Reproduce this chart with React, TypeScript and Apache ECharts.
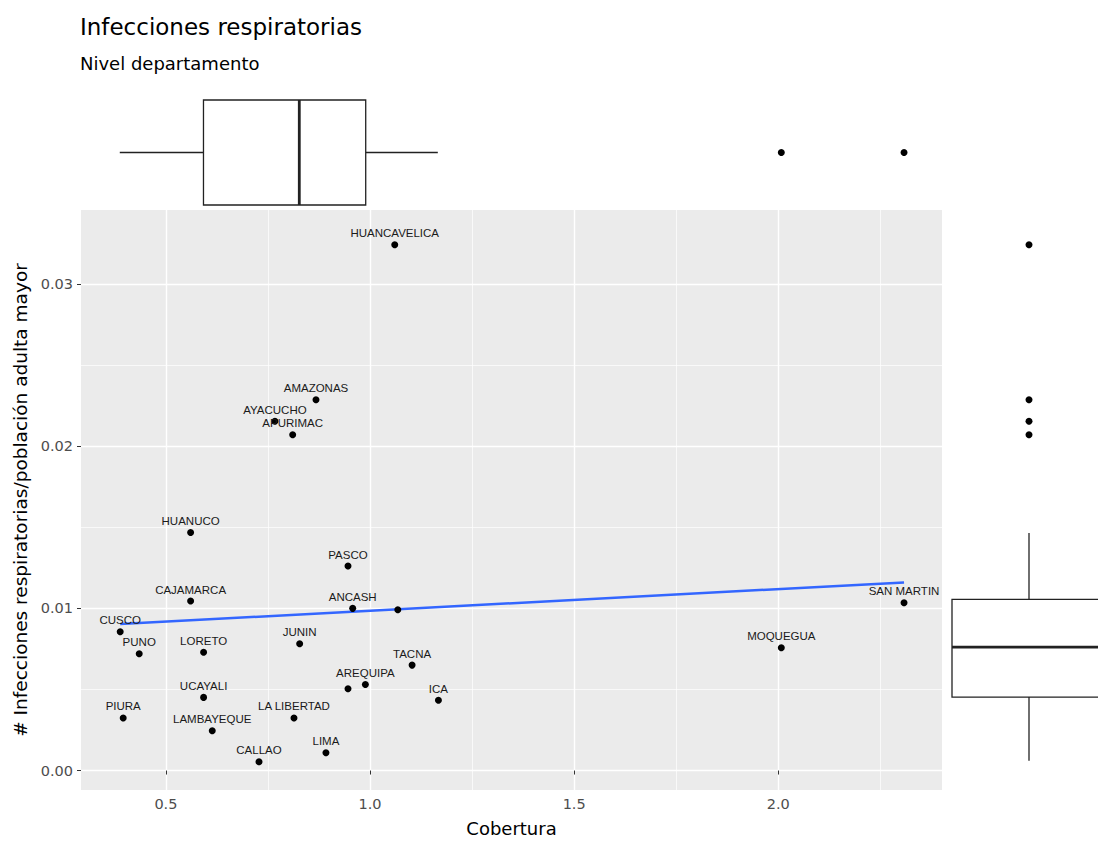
import React, { useEffect, useRef } from 'react';
import * as echarts from 'echarts';

// ---------- data ----------
const departamentos = [
  'HUANCAVELICA', 'AMAZONAS', 'AYACUCHO', 'APURIMAC', 'HUANUCO', 'PASCO', 'CAJAMARCA',
  'ANCASH', 'MADRE DE DIOS', 'CUSCO', 'PUNO', 'LORETO', 'JUNIN', 'TACNA', 'AREQUIPA',
  'TUMBES', 'UCAYALI', 'ICA', 'PIURA', 'LA LIBERTAD', 'LAMBAYEQUE', 'LIMA', 'CALLAO',
  'SAN MARTIN', 'MOQUEGUA',
];
const cobertura = [
  1.0605, 0.8676, 0.767, 0.8105, 0.5605, 0.946, 0.5605,
  0.9575, 1.068, 0.388, 0.4346, 0.5923, 0.8276, 1.103, 0.9886,
  0.946, 0.5923, 1.1675, 0.3954, 0.8137, 0.6135, 0.892, 0.728,
  2.308, 2.0074,
];
const tasaInfecciones = [
  0.03242, 0.02286, 0.02153, 0.0207, 0.01468, 0.01261, 0.01045,
  0.0100, 0.00991, 0.00856, 0.0072, 0.00729, 0.00782, 0.0065, 0.00531,
  0.00504, 0.00451, 0.00433, 0.00324, 0.00324, 0.00245, 0.0011, 0.00054,
  0.01035, 0.00757,
];
// labels dropped in the reference (overlap check)
const etiquetaOculta = ['MADRE DE DIOS', 'TUMBES'];

// linear fit endpoints
const ajusteX = [0.388, 2.308];
const ajusteY = [0.00903, 0.0116];

// marginal boxplots: [lower whisker, Q1, median, Q3, upper whisker]
const boxCobertura = [0.387, 0.592, 0.8267, 0.9894, 1.166];
const outliersCobertura = [2.0074, 2.308];
const boxTasa = [0.0006, 0.00453, 0.00761, 0.01055, 0.01464];
const outliersTasa = [0.03242, 0.02286, 0.02153, 0.0207];

// tick labels
const xTicks = [0.5, 1.0, 1.5, 2.0];
const yTicks = [0.0, 0.01, 0.02, 0.03];

const X_MIN = 0.292;
const X_MAX = 2.401;
const Y_MIN = -0.0012;
const Y_MAX = 0.03456;

const FONT = "'DejaVu Sans', sans-serif";
const LABEL_FONT = "'Liberation Sans', Arial, sans-serif";

function boxRenderer(horizontal: boolean) {
  return (_params: any, api: any) => {
    const lo = api.value(0), q1 = api.value(1), med = api.value(2), q3 = api.value(3), hi = api.value(4);
    const P = (v: number, t: number) => (horizontal ? api.coord([v, t]) : api.coord([t, v]));
    const stroke = '#222222';
    const thin = { stroke, lineWidth: 1.3 };
    const a = P(q1, 0), b = P(q3, 1);
    const w1a = P(lo, 0.5), w1b = P(q1, 0.5), w2a = P(q3, 0.5), w2b = P(hi, 0.5);
    const m1 = P(med, 0), m2 = P(med, 1);
    return {
      type: 'group',
      children: [
        { type: 'line', shape: { x1: w1a[0], y1: w1a[1], x2: w1b[0], y2: w1b[1] }, style: thin },
        { type: 'line', shape: { x1: w2a[0], y1: w2a[1], x2: w2b[0], y2: w2b[1] }, style: thin },
        {
          type: 'rect',
          shape: {
            x: Math.min(a[0], b[0]), y: Math.min(a[1], b[1]),
            width: Math.abs(b[0] - a[0]), height: Math.abs(b[1] - a[1]),
          },
          style: { fill: '#ffffff', stroke, lineWidth: 1.3 },
        },
        { type: 'line', shape: { x1: m1[0], y1: m1[1], x2: m2[0], y2: m2[1] }, style: { stroke, lineWidth: 2.8 } },
      ],
    };
  };
}

export default function App() {
  const ref = useRef<HTMLDivElement>(null);
  useEffect(() => {
    const chart = echarts.init(ref.current!, null, { renderer: 'svg' });

    const puntos = departamentos.map((d, i) => ({
      name: d,
      value: [cobertura[i], tasaInfecciones[i]],
      label: { show: !etiquetaOculta.includes(d) },
    }));

    const option: any = {
      animation: false,
      backgroundColor: '#ffffff',
      title: [
        {
          text: 'Infecciones respiratorias', left: 80, top: 15, padding: 0,
          textStyle: { fontSize: 23, fontWeight: 'normal', color: '#000', fontFamily: FONT },
        },
        {
          text: 'Nivel departamento', left: 80, top: 54, padding: 0,
          textStyle: { fontSize: 18, fontWeight: 'normal', color: '#000', fontFamily: FONT },
        },
      ],
      grid: [
        { left: 81, top: 210, width: 861, height: 580, show: true, backgroundColor: '#EBEBEB', borderWidth: 0 },
        { left: 81, top: 100, width: 861, height: 105, show: false },
        // right marginal panel: clipped by the page edge (box would span 952..1106)
        { left: 952, top: 210, width: 146, height: 580, show: false },
      ],
      xAxis: [
        {
          type: 'value', gridIndex: 0, min: X_MIN, max: X_MAX,
          name: 'Cobertura', nameLocation: 'middle', nameGap: 29,
          nameTextStyle: { fontSize: 18, color: '#000', fontFamily: FONT },
          axisLine: { show: false },
          axisTick: { show: true, length: 4, customValues: xTicks, lineStyle: { color: '#333', width: 1 } },
          axisLabel: {
            customValues: xTicks, margin: 6, color: '#4D4D4D', fontSize: 14.5, fontFamily: FONT,
            formatter: (v: number) => v.toFixed(1),
          },
          splitLine: { show: true, lineStyle: { color: '#ffffff', width: 1.4 } },
          minorTick: { show: false, splitNumber: 2 },
          minorSplitLine: { show: true, lineStyle: { color: '#ffffff', width: 0.7 } },
        },
        { type: 'value', gridIndex: 1, min: X_MIN, max: X_MAX, show: false, splitLine: { show: false } },
        { type: 'value', gridIndex: 2, min: 0, max: 146 / 154, show: false, splitLine: { show: false } },
      ],
      yAxis: [
        {
          type: 'value', gridIndex: 0, min: Y_MIN, max: Y_MAX,
          name: '# Infecciones respiratorias/población adulta mayor',
          nameLocation: 'middle', nameGap: 50, nameRotate: 90,
          nameTextStyle: { fontSize: 18.5, color: '#000', fontFamily: FONT },
          axisLine: { show: false },
          axisTick: { show: true, length: 4, customValues: yTicks, lineStyle: { color: '#333', width: 1 } },
          axisLabel: {
            customValues: yTicks, margin: 8, color: '#4D4D4D', fontSize: 14.5, fontFamily: FONT,
            formatter: (v: number) => v.toFixed(2),
          },
          splitLine: { show: true, lineStyle: { color: '#ffffff', width: 1.4 } },
          minorTick: { show: false, splitNumber: 2 },
          minorSplitLine: { show: true, lineStyle: { color: '#ffffff', width: 0.7 } },
        },
        { type: 'value', gridIndex: 1, min: 0, max: 1, show: false, splitLine: { show: false } },
        { type: 'value', gridIndex: 2, min: Y_MIN, max: Y_MAX, show: false, splitLine: { show: false } },
      ],
      series: [
        {
          type: 'line', xAxisIndex: 0, yAxisIndex: 0, z: 2,
          data: ajusteX.map((x, i) => [x, ajusteY[i]]),
          symbol: 'none', silent: true,
          lineStyle: { color: '#3366FF', width: 2.5 },
        },
        {
          type: 'scatter', xAxisIndex: 0, yAxisIndex: 0, z: 3,
          data: puntos, symbolSize: 7,
          itemStyle: { color: '#000000', opacity: 1 },
          label: {
            position: 'top', distance: 2,
            formatter: (p: any) => p.name,
            color: '#1a1a1a', fontSize: 11.5, fontFamily: LABEL_FONT,
          },
        },
        {
          type: 'custom', xAxisIndex: 1, yAxisIndex: 1,
          renderItem: boxRenderer(true),
          data: [boxCobertura],
        },
        {
          type: 'scatter', xAxisIndex: 1, yAxisIndex: 1,
          data: outliersCobertura.map((v) => [v, 0.5]),
          symbolSize: 7, itemStyle: { color: '#000000', opacity: 1 },
        },
        {
          type: 'custom', xAxisIndex: 2, yAxisIndex: 2,
          renderItem: boxRenderer(false),
          data: [boxTasa],
        },
        {
          type: 'scatter', xAxisIndex: 2, yAxisIndex: 2,
          data: outliersTasa.map((v) => [0.5, v]),
          symbolSize: 7, itemStyle: { color: '#000000', opacity: 1 },
        },
      ],
    };

    chart.setOption(option);
    return () => chart.dispose();
  }, []);

  return (
    <div
      ref={ref}
      style={{ position: 'fixed', left: 0, top: 0, width: 1098, height: 842, background: '#ffffff' }}
    />
  );
}
